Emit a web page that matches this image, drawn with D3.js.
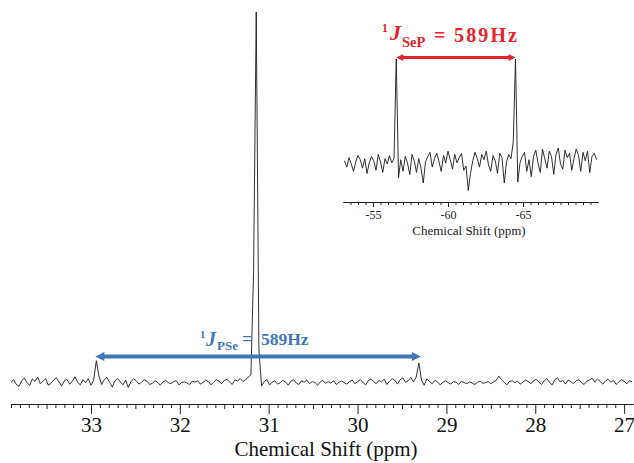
<!DOCTYPE html>
<html>
<head>
<meta charset="utf-8">
<script src="https://cdn.jsdelivr.net/npm/d3@7"></script>
<style>
  body { margin: 0; background: #fff; }
  svg { display: block; font-family: "Liberation Serif", "Times New Roman", serif; }
</style>
</head>
<body>
<svg id="nmr"></svg>
<script>
// 31P spectrum, sampled from 33.9 ppm downfield-to-upfield
var mainPpm0 = 33.9, mainStep = 0.03;
var mainIntensity = [
  0.2, 0.9, -0.4, -0.9, 0.6, 1.3, 0.1, -0.7, 1.1, 0.4,
  1.6, -0.2, 0.5, 1.2, -0.6, -0.1, 0.8, 1.4, 0.3, -0.8,
  0.6, 1.0, -0.3, 0.4, 1.7, 0.2, -0.5, 0.9, 0.1, 1.2,
  -0.6, 0.7, 6.0, 1.8, -0.4, 0.9, 1.5, 0.2, -1.1, 0.6,
  1.2, 0.3, -0.5, 0.8, -1.2, 0.4, 1.1, 0.6, -0.3, 0.2,
  0.9, 0.5, -0.4, -0.1, 0.6, 0.2, -0.6, 0.3, 0.7, 0.1,
  -0.2, 0.4, 0.6, -0.5, 0.1, 0.3, 0.0, -0.4, 0.5, 0.2,
  0.6, -0.3, 0.1, 0.8, 0.4, -0.5, 0.2, 0.9, 0.5, -0.2,
  0.7, 1.0, 0.3, -0.4, 0.9, 0.5, 1.2, 0.4, 0.8, 1.6,
  2.2, 30, 100, 9, -0.8, 0.4, 0.9, -0.5, 0.2, 0.6,
  -0.3, 0.1, 0.7, 0.3, -0.6, 0.5, 0.9, 0.0, -0.4, 0.6,
  0.2, 0.8, -0.2, 0.4, 0.1, -0.6, 0.3, 0.7, -0.1, 0.4,
  0.0, 0.6, -0.4, 0.2, 0.5, 0.1, -0.3, 0.4, 0.8, -0.2,
  0.3, 0.9, 0.2, -0.5, 0.6, 1.1, 0.4, -0.2, 0.7, 0.3,
  1.0, -0.4, 0.5, 1.2, 0.7, -0.3, 0.9, 1.4, 0.2, 0.6,
  1.5, 0.3, 1.6, 5.4, 0.8, -0.6, 1.1, 0.4, -0.2, 0.7,
  0.3, -0.5, 0.2, 0.6, 0.1, -0.3, 0.4, 0.2, -0.4, 0.5,
  0.1, -0.2, 0.3, 0.0, -0.4, 0.2, 0.5, -0.1, 0.1, 0.4,
  -0.2, 0.3, 0.7, 1.9, 0.9, 0.2, -0.5, 0.4, 0.6, 0.1,
  0.5, -0.3, 0.2, 0.8, 0.4, -0.2, 0.6, 1.0, 0.3, -0.4,
  0.6, 1.2, 0.2, -0.5, 0.9, 1.4, 0.3, 0.7, -0.3, 0.8,
  0.4, -0.2, 0.6, 0.9, 0.1, -0.4, 0.5, 0.8, 1.3, 0.2,
  1.1, 0.4, -0.3, 0.6, 1.0, 0.2, 0.7, -0.4, 0.3, 0.9,
  0.5, -0.2, 0.6, 0.3
];
var mainTicks = [33, 32, 31, 30, 29, 28, 27];
var mainSatellites = [32.94, 29.31];
var mainLabel = "589Hz";

// 77Se inset spectrum
var insetPpm0 = -53.1, insetStep = -0.15;
var insetIntensity = [
  4, -2, 7, 1, -6, 3, 9, 5, -3, 6,
  -8, 2, 8, 4, -5, 10, 3, -7, 6, 1,
  9, 2, 6, 100, -12, 5, -6, 8, 2, -9,
  10, 4, -7, 6, -3, -17, 3, 8, 12, -2,
  6, 11, 3, -6, 9, 2, 13, 5, -4, 10,
  2, 7, 11, -5, -1, -24, -8, 4, 12, 6,
  -2, 10, 5, 13, 0, -6, 9, 4, -8, 11,
  7, -17, 3, 10, 6, 22, 100, -16, 2, 8,
  12, -6, 5, -11, 8, 14, 2, -7, 15, 6,
  -3, 13, 8, -9, 10, 16, 1, -4, 14, 7,
  11, -5, 6, 15, 9, -6, 12, 4, 13, -7,
  8, 11, 5
];
var insetTicks = [-55, -60, -65];
var insetPeaks = [-56.55, -64.5];
var insetLabel = "589Hz";

var W = 634, H = 463;
var svg = d3.select("#nmr").attr("width", W).attr("height", H);

var blue = "#3f78b5", red = "#e3262b";

// ---------- main spectrum ----------
var x = d3.scaleLinear().domain([33.9, 26.9]).range([11, 633]);
var y = d3.scaleLinear().domain([0, 100]).range([383, 12]);
var axisY = 404;

var mainData = mainIntensity.map(function(v, i) {
  return {ppm: mainPpm0 - i * mainStep, v: v};
});

var line = d3.line()
  .x(function(d) { return x(d.ppm); })
  .y(function(d) { return y(d.v); });

svg.append("path")
  .datum(mainData)
  .attr("fill", "none")
  .attr("stroke", "#1a1a1a")
  .attr("stroke-width", 0.9)
  .attr("stroke-linejoin", "round")
  .attr("d", line);

// minor ticks 0.1, medium 0.5, major 1
var minorVals = d3.range(339, 269, -1).map(function(d) { return d / 10; })
  .filter(function(d) { return Math.round(d * 10) % 5 !== 0; });
var midVals = d3.range(67, 54, -1).map(function(d) { return d / 2; })
  .filter(function(d) { return d % 1 !== 0; });

var gx = svg.append("g").attr("transform", "translate(0," + axisY + ")");
gx.append("g").call(d3.axisBottom(x).tickValues(minorVals).tickSize(4).tickSizeOuter(0).tickFormat(""));
gx.append("g").call(d3.axisBottom(x).tickValues(midVals).tickSize(5).tickSizeOuter(0).tickFormat(""));
gx.append("g").call(d3.axisBottom(x).tickValues(mainTicks).tickSize(10).tickSizeOuter(0)
  .tickFormat(function(d) { return String(d); }));
gx.selectAll("path.domain").attr("stroke", "#222").attr("stroke-width", 1.2);
gx.selectAll(".tick line").attr("stroke", "#222").attr("stroke-width", 1);
gx.selectAll(".tick text")
  .attr("font-family", "Liberation Serif, serif")
  .attr("font-size", 21)
  .attr("fill", "#111")
  .attr("y", 13);

svg.append("text")
  .attr("x", 326).attr("y", 456)
  .attr("text-anchor", "middle")
  .attr("font-size", 21)
  .attr("fill", "#111")
  .text("Chemical Shift (ppm)");

// double-headed coupling arrow
function arrow(g, x1, x2, yy, color, sw, hl, hw) {
  g.append("line")
    .attr("x1", x1 + hl - 1).attr("x2", x2 - hl + 1)
    .attr("y1", yy).attr("y2", yy)
    .attr("stroke", color).attr("stroke-width", sw);
  g.append("path")
    .attr("d", "M" + x1 + "," + yy + "L" + (x1 + hl) + "," + (yy - hw) + "L" + (x1 + hl) + "," + (yy + hw) + "Z")
    .attr("fill", color);
  g.append("path")
    .attr("d", "M" + x2 + "," + yy + "L" + (x2 - hl) + "," + (yy - hw) + "L" + (x2 - hl) + "," + (yy + hw) + "Z")
    .attr("fill", color);
}
arrow(svg, x(mainSatellites[0]) - 1, x(mainSatellites[1]) + 2, 356.5, blue, 4, 9, 4.5);

var bl = svg.append("g").attr("fill", blue).attr("font-weight", "bold");
bl.append("text").attr("x", 200).attr("y", 338).attr("font-size", 10.5).text("1");
bl.append("text").attr("x", 206).attr("y", 346).attr("font-size", 20).attr("font-style", "italic").text("J");
bl.append("text").attr("x", 217).attr("y", 350).attr("font-size", 13).text("PSe");
bl.append("text").attr("x", 242).attr("y", 345).attr("font-size", 18).text("=");
bl.append("text").attr("x", 261).attr("y", 345).attr("font-size", 17.5).text(mainLabel);

// ---------- inset ----------
var ix = d3.scaleLinear().domain([-53, -70]).range([343, 598]);
var iy = d3.scaleLinear().domain([0, 100]).range([165, 59]);
var insetAxisY = 202;

var insetData = insetIntensity.map(function(v, i) {
  return {ppm: insetPpm0 + i * insetStep, v: v};
});

var iline = d3.line()
  .x(function(d) { return ix(d.ppm); })
  .y(function(d) { return iy(d.v); });

svg.append("path")
  .datum(insetData)
  .attr("fill", "none")
  .attr("stroke", "#1a1a1a")
  .attr("stroke-width", 0.9)
  .attr("stroke-linejoin", "round")
  .attr("d", iline);

var insetMinor = d3.range(-53.5, -70, -0.5).filter(function(d) { return d % 5 !== 0; });
var gi = svg.append("g").attr("transform", "translate(0," + insetAxisY + ")");
gi.append("g").call(d3.axisBottom(ix).tickValues(insetMinor).tickSize(3).tickSizeOuter(0).tickFormat(""));
gi.append("g").call(d3.axisBottom(ix).tickValues(insetTicks).tickSize(5).tickSizeOuter(0)
  .tickFormat(function(d) { return String(d); }));
gi.selectAll("path.domain").attr("stroke", "#222").attr("stroke-width", 1);
gi.selectAll(".tick line").attr("stroke", "#222").attr("stroke-width", 1);
gi.selectAll(".tick text")
  .attr("font-family", "Liberation Serif, serif")
  .attr("font-size", 12)
  .attr("fill", "#222")
  .attr("y", 8);

svg.append("text")
  .attr("x", 469).attr("y", 235)
  .attr("text-anchor", "middle")
  .attr("font-size", 13)
  .attr("fill", "#222")
  .text("Chemical Shift (ppm)");

arrow(svg, ix(insetPeaks[0]), ix(insetPeaks[1]), 57.5, red, 3, 7, 3.5);

var rl = svg.append("g").attr("fill", red).attr("font-weight", "bold");
rl.append("text").attr("x", 382).attr("y", 32).attr("font-size", 11.5).text("1");
rl.append("text").attr("x", 390).attr("y", 40).attr("font-size", 22).attr("font-style", "italic").text("J");
rl.append("text").attr("x", 402).attr("y", 47).attr("font-size", 14.5).text("SeP");
rl.append("text").attr("x", 434).attr("y", 42).attr("font-size", 20).text("=");
rl.append("text").attr("x", 454).attr("y", 42).attr("font-size", 20).attr("textLength", 63).text(insetLabel);
</script>
</body>
</html>
